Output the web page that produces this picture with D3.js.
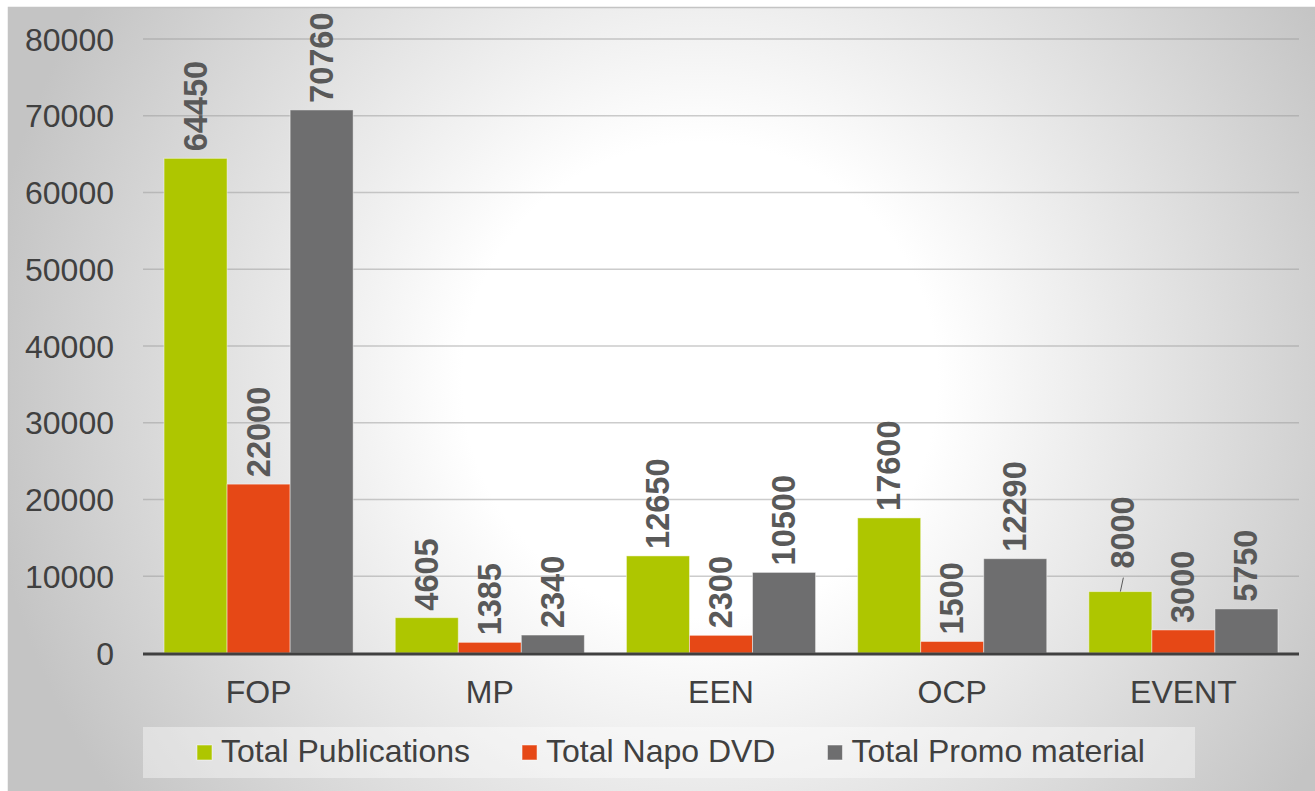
<!DOCTYPE html>
<html>
<head>
<meta charset="utf-8">
<title>Distribution</title>
<script src="https://cdn.jsdelivr.net/npm/d3@7"></script>
<style>
    html, body { margin: 0; padding: 0; background: #ffffff; }
    svg { display: block; font-family: "Liberation Sans", Arial, sans-serif; }
</style>
</head>
<body>
<svg id="chart"></svg>
<script>
// categories and series
var categories = ["FOP", "MP", "EEN", "OCP", "EVENT"];
var seriesNames = ["Total Publications", "Total Napo DVD", "Total Promo material"];
var publications = [64450, 4605, 12650, 17600, 8000];
var napoDvd = [22000, 1385, 2300, 1500, 3000];
var promoMaterial = [70760, 2340, 10500, 12290, 5750];
var yTicks = [0, 10000, 20000, 30000, 40000, 50000, 60000, 70000, 80000];
var colors = ["#aec600", "#e64816", "#6e6e6f"];

var width = 1315, height = 791;
var svg = d3.select("#chart").attr("width", width).attr("height", height);

// background with radial gradient
var defs = svg.append("defs");
var grad = defs.append("radialGradient")
    .attr("id", "bg")
    .attr("gradientUnits", "userSpaceOnUse")
    .attr("cx", 700).attr("cy", 380).attr("r", 720);
grad.append("stop").attr("offset", "0").attr("stop-color", "#ffffff");
grad.append("stop").attr("offset", "0.33").attr("stop-color", "#ffffff");
grad.append("stop").attr("offset", "1").attr("stop-color", "#c4c4c4");

svg.append("rect")
    .attr("x", 8).attr("y", 7)
    .attr("width", width - 8).attr("height", height - 7)
    .attr("fill", "url(#bg)");
svg.append("path")
    .attr("d", "M8.5," + height + "V7.5H" + width)
    .attr("fill", "none")
    .attr("stroke", "#c4c4c4")
    .attr("stroke-width", 1.5);

var plotLeft = 143, plotRight = 1299;

var y = d3.scaleLinear().domain([0, 80000]).range([653, 39]);
var x0 = d3.scaleBand().domain(categories).range([plotLeft, plotRight]);
var gap = x0.bandwidth() * 0.091;
var x1 = d3.scaleBand().domain(seriesNames).range([gap, x0.bandwidth() - gap]);

var rows = categories.map(function (c, i) {
    return {cat: c, values: [publications[i], napoDvd[i], promoMaterial[i]]};
});

// gridlines
svg.append("g").selectAll("line")
    .data(yTicks.filter(function (t) { return t > 0; }))
    .enter().append("line")
    .attr("x1", plotLeft).attr("x2", plotRight)
    .attr("y1", function (d) { return y(d); })
    .attr("y2", function (d) { return y(d); })
    .attr("stroke", "#9a9a9a")
    .attr("stroke-opacity", 0.5)
    .attr("stroke-width", 1.5);

// y tick labels
svg.append("g").selectAll("text")
    .data(yTicks)
    .enter().append("text")
    .attr("x", 114)
    .attr("y", function (d) { return y(d) + 11.5; })
    .attr("text-anchor", "end")
    .attr("font-size", 32)
    .attr("fill", "#404040")
    .text(function (d) { return d; });

// bars
var groups = svg.append("g").selectAll("g")
    .data(rows)
    .enter().append("g")
    .attr("transform", function (d) { return "translate(" + x0(d.cat) + ",0)"; });

groups.selectAll("rect")
    .data(function (d) {
        return d.values.map(function (v, j) { return {cat: d.cat, key: seriesNames[j], idx: j, value: v}; });
    })
    .enter().append("rect")
    .attr("x", function (d) { return x1(d.key); })
    .attr("y", function (d) { return y(d.value); })
    .attr("width", x1.bandwidth())
    .attr("height", function (d) { return y(0) - y(d.value); })
    .attr("fill", function (d) { return colors[d.idx]; })
    .attr("stroke", "rgba(255,255,255,0.45)")
    .attr("stroke-width", 1);

// data labels (the EVENT publications label was moved up with a leader line)
groups.each(function (row) {
    var g = d3.select(this);
    row.values.forEach(function (v, j) {
        var cx = x1(seriesNames[j]) + x1.bandwidth() / 2;
        var top = y(v);
        var shiftX = 0, shiftY = 0;
        if (row.cat === "EVENT" && j === 0) {
            shiftX = 3; shiftY = -16;
            g.append("line")
                .attr("x1", cx).attr("y1", top)
                .attr("x2", cx + shiftX).attr("y2", top + shiftY + 2)
                .attr("stroke", "#595959")
                .attr("stroke-width", 1);
        }
        g.append("text")
            .attr("transform", "translate(" + (cx + shiftX) + "," + (top - 7 + shiftY) + ") rotate(-90)")
            .attr("dominant-baseline", "central")
            .attr("font-size", 32.5)
            .attr("font-weight", "bold")
            .attr("fill", "#595959")
            .text(v);
    });
});

// x axis line
svg.append("line")
    .attr("x1", plotLeft).attr("x2", plotRight)
    .attr("y1", y(0) + 1).attr("y2", y(0) + 1)
    .attr("stroke", "#404040")
    .attr("stroke-width", 3);

// category labels
svg.append("g").selectAll("text")
    .data(categories)
    .enter().append("text")
    .attr("x", function (d) { return x0(d) + x0.bandwidth() / 2; })
    .attr("y", 703)
    .attr("text-anchor", "middle")
    .attr("font-size", 32)
    .attr("fill", "#404040")
    .text(function (d) { return d; });

// legend
svg.append("rect")
    .attr("x", 143).attr("y", 727)
    .attr("width", 1052).attr("height", 51)
    .attr("fill", "#ffffff")
    .attr("fill-opacity", 0.4);

var lx = 197;
seriesNames.forEach(function (name, j) {
    svg.append("rect")
        .attr("x", lx).attr("y", 745)
        .attr("width", 15).attr("height", 15)
        .attr("fill", colors[j])
        .attr("stroke", "rgba(255,255,255,0.5)")
        .attr("stroke-width", 1);
    var t = svg.append("text")
        .attr("x", lx + 24)
        .attr("y", 762)
        .attr("font-size", 32)
        .attr("fill", "#404040")
        .text(name);
    lx = lx + 24 + t.node().getComputedTextLength() + 52;
});
</script>
</body>
</html>
